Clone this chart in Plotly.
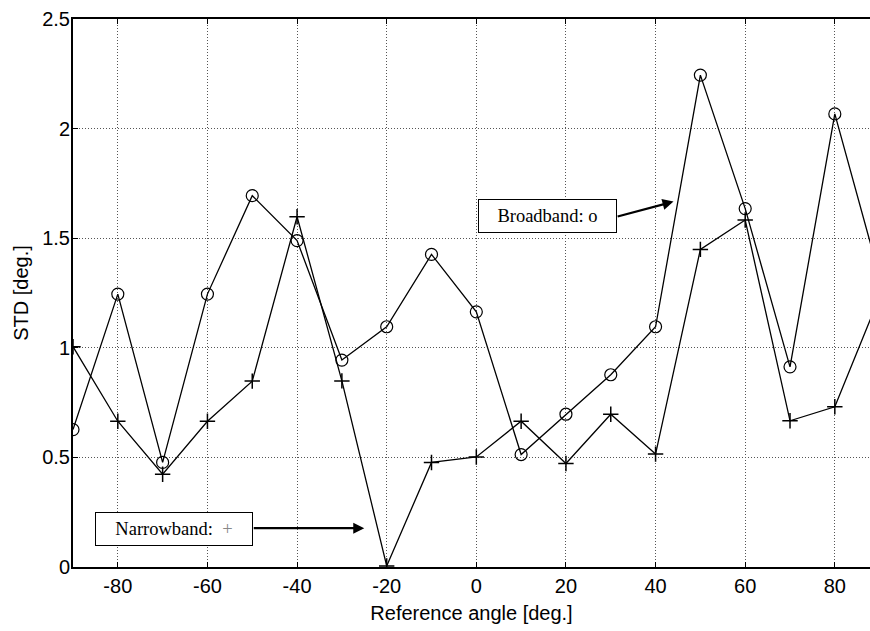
import plotly.graph_objects as go

angles = [-90, -80, -70, -60, -50, -40, -30, -20, -10, 0, 10, 20, 30, 40, 50, 60, 70, 80, 90]
broadband = [0.627, 1.245, 0.477, 1.245, 1.694, 1.489, 0.944, 1.096, 1.426, 1.164, 0.513, 0.697,
             0.877, 1.096, 2.244, 1.635, 0.913, 2.067, 1.324]
narrowband = [1.005, 0.665, 0.423, 0.665, 0.848, 1.598, 0.849, 0.005, 0.477, 0.502, 0.665, 0.472,
              0.697, 0.515, 1.449, 1.583, 0.667, 0.731, 1.234]
x_ticks = [-80, -60, -40, -20, 0, 20, 40, 60, 80]
x_ticklabels = ["-80", "-60", "-40", "-20", "0", "20", "40", "60", "80"]
y_ticks = [0, 0.5, 1, 1.5, 2, 2.5]
y_ticklabels = ["0", "0.5", "1", "1.5", "2", "2.5"]

fig = go.Figure()
fig.add_trace(go.Scatter(x=angles, y=broadband, mode="lines+markers", name="Broadband",
                         line=dict(color="black", width=1.3),
                         marker=dict(symbol="circle-open", size=12, color="black", line=dict(width=1.2))))
fig.add_trace(go.Scatter(x=angles, y=narrowband, mode="lines+markers", name="Narrowband",
                         line=dict(color="black", width=1.3),
                         marker=dict(symbol="cross-thin-open", size=11, color="black", line=dict(width=1.5))))

fig.add_annotation(x=15.8, y=1.600, xref="x", yref="y", text="Broadband: o", showarrow=False,
                   font=dict(family="Liberation Serif", size=18.5, color="black"),
                   bordercolor="black", borderwidth=1, bgcolor="white", width=135, height=30)
fig.add_annotation(x=44.0, y=1.667, ax=31.2, ay=1.597, xref="x", yref="y", axref="x", ayref="y",
                   text="", showarrow=True, arrowhead=2, arrowsize=1, arrowwidth=2.2, arrowcolor="black")
fig.add_annotation(x=-67.5, y=0.1735, xref="x", yref="y",
                   text="Narrowband:  <span style='color:#888888'>+</span>", showarrow=False,
                   font=dict(family="Liberation Serif", size=18.5, color="black"),
                   bordercolor="black", borderwidth=1, bgcolor="white", width=154, height=30)
fig.add_annotation(x=-25.0, y=0.177, ax=-50.0, ay=0.177, xref="x", yref="y", axref="x", ayref="y",
                   text="", showarrow=True, arrowhead=2, arrowsize=1, arrowwidth=2.2, arrowcolor="black")

fig.update_layout(
    width=870, height=631,
    margin=dict(l=72.5, r=0, t=19, b=64.3),
    plot_bgcolor="white", paper_bgcolor="white",
    showlegend=False,
    font=dict(family="Liberation Sans", size=18, color="black"),
)
fig.update_xaxes(range=[-90, 87.85], tickvals=x_ticks, ticktext=x_ticklabels, ticks="inside",
                 ticklen=5, tickwidth=1.2, tickcolor="black", showline=True, linewidth=2,
                 linecolor="black", mirror="ticks",
                 showgrid=True, gridcolor="#555555", griddash="1px,2px", gridwidth=1, zeroline=False,
                 title=dict(text="Reference angle [deg.]", standoff=10, font=dict(size=20)),
                 tickfont=dict(size=20))
fig.update_yaxes(range=[0, 2.5], tickvals=y_ticks, ticktext=y_ticklabels, ticks="inside", ticklen=5,
                 tickwidth=1.2, tickcolor="black", showline=True, linewidth=2, linecolor="black",
                 showgrid=True, gridcolor="#555555", griddash="1px,2px", gridwidth=1, zeroline=False,
                 ticklabelstandoff=-3,
                 title=dict(text="STD [deg.]", standoff=8, font=dict(size=20)),
                 tickfont=dict(size=20))

fig.write_html("out.html", config={"displayModeBar": False},
               post_script="document.body.style.margin='0';document.body.style.overflow='hidden';")
